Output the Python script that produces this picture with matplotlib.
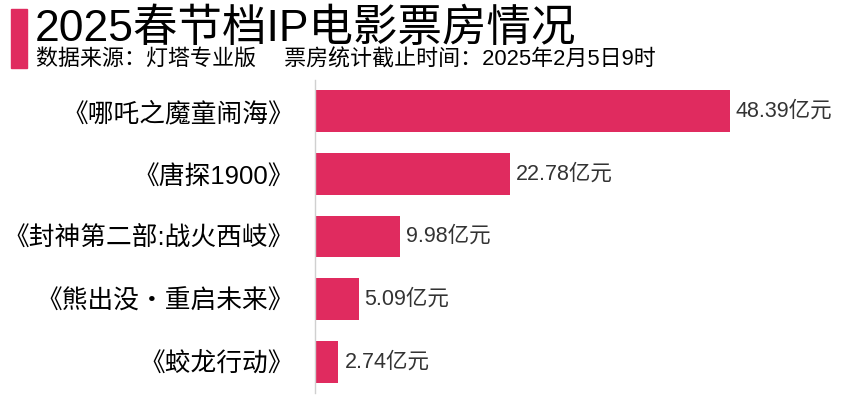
import matplotlib.pyplot as plt
from matplotlib.patches import Rectangle

plt.rcParams['font.family'] = ['Liberation Sans', 'Noto Sans CJK SC', 'DejaVu Sans']

# 数据
films = ['《哪吒之魔童闹海》', '《唐探1900》', '《封神第二部:战火西岐》',
         '《熊出没・重启未来》', '《蛟龙行动》']
box_office = [48.39, 22.78, 9.98, 5.09, 2.74]  # 亿元

bar_color = '#E02B5F'

fig = plt.figure(figsize=(8.47, 3.98), dpi=100)
W, H = 847, 398

# 标题和副标题
fig.patches.append(Rectangle((11 / W, 1 - 68 / H), 16 / W, 59 / H,
                             transform=fig.transFigure, color=bar_color))
fig.text(35 / W, 1 - 29 / H, '2025春节档IP电影票房情况', fontsize=32,
         va='center', ha='left', color='black')
fig.text(36 / W, 1 - 60 / H, '数据来源：灯塔专业版　 票房统计截止时间：2025年2月5日9时',
         fontsize=15.8, va='center', ha='left', color='black')

# 横向条形图
ax = fig.add_axes([315 / W, 5 / H, 514 / W, 313 / H])
ypos = list(range(len(films)))
ax.barh(ypos, box_office, height=0.67, color=bar_color)
for y, v in zip(ypos, box_office):
    ax.text(v + 0.7, y, f'{v:.2f}亿元', va='center', ha='left',
            fontsize=15.5, color='#333333')

ax.set_xlim(0, 60)
ax.set_ylim(4.5, -0.5)
ax.set_yticks(ypos)
ax.set_yticklabels(films, fontsize=18.5, color='black')
ax.tick_params(axis='y', length=0, pad=15)
ax.set_xticks([])
for s in ['top', 'right', 'bottom']:
    ax.spines[s].set_visible(False)
ax.spines['left'].set_color('#d0d0d0')
ax.spines['left'].set_linewidth(1)

fig.savefig('out.png', dpi=100)
